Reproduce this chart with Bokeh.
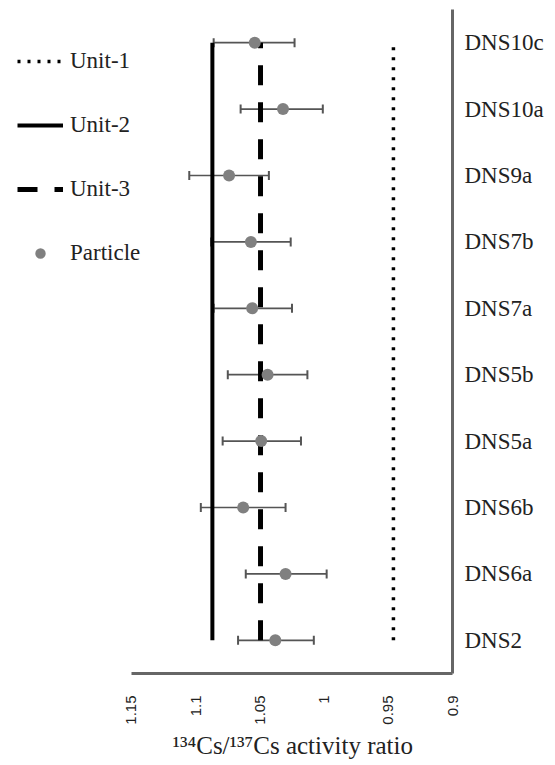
from bokeh.plotting import figure
from bokeh.models import (ColumnDataSource, Range1d, FixedTicker, Whisker,
                          TeeHead, Legend, LegendItem, Title)
from bokeh.embed import file_html
from bokeh.resources import INLINE
import math

# ---- data ----
samples = ["DNS2", "DNS6a", "DNS6b", "DNS5a", "DNS5b", "DNS7a", "DNS7b", "DNS9a", "DNS10a", "DNS10c"]
particle = [1.038, 1.030, 1.063, 1.049, 1.044, 1.056, 1.057, 1.074, 1.032, 1.054]
err_lo = [1.008, 0.998, 1.030, 1.018, 1.013, 1.025, 1.026, 1.043, 1.001, 1.023]
err_hi = [1.067, 1.061, 1.096, 1.079, 1.075, 1.086, 1.088, 1.105, 1.065, 1.086]
unit1 = [0.946] * 10
unit2 = [1.087] * 10
unit3 = [1.0495] * 10
tick_vals = [0.9, 0.95, 1.0, 1.05, 1.1, 1.15]
tick_labels = ["0.9", "0.95", "1", "1.05", "1.1", "1.15"]
x_title = "\u00b9\u00b3\u2074Cs/\u00b9\u00b3\u2077Cs  activity ratio"

ypos = list(range(len(samples)))
src = ColumnDataSource(dict(y=ypos, x=particle, lo=err_lo, hi=err_hi,
                            u1=unit1, u2=unit2, u3=unit3))

p = figure(frame_width=443, frame_height=664,
           x_range=Range1d(1.245, 0.9), y_range=Range1d(-0.5, len(samples) - 0.5),
           y_axis_location="right", output_backend="svg", toolbar_location=None,
           min_border_left=9, min_border_top=9, min_border_bottom=0, min_border_right=0)
p.outline_line_color = None
p.xgrid.visible = False
p.ygrid.visible = False
p.background_fill_color = "white"
p.border_fill_color = "white"

r1 = p.line(x="u1", y="y", source=src, line_color="black", line_width=3.5, line_dash="3 7")
r2 = p.line(x="u2", y="y", source=src, line_color="black", line_width=4)
r3 = p.line(x="u3", y="y", source=src, line_color="black", line_width=5, line_dash="20 17")

wh = Whisker(source=src, base="y", lower="lo", upper="hi", dimension="width",
             line_color="#555555", line_width=1.7,
             upper_head=TeeHead(size=9, line_color="#555555", line_width=2),
             lower_head=TeeHead(size=9, line_color="#555555", line_width=2))
p.add_layout(wh)

r4 = p.scatter(x="x", y="y", source=src, size=12, fill_color="#808080", line_color=None)

# axes
xa = p.xaxis[0]
xa.bounds = (min(tick_vals), max(tick_vals))
xa.ticker = FixedTicker(ticks=tick_vals)
xa.major_label_overrides = {v: t for v, t in zip(tick_vals, tick_labels)}
xa.major_label_orientation = math.pi / 2
xa.major_tick_line_color = None
xa.minor_tick_line_color = None
xa.major_tick_out = 0
xa.major_tick_in = 0
xa.major_label_standoff = 22
xa.major_label_text_font = "Liberation Sans"
xa.major_label_text_font_size = "15px"
xa.major_label_text_color = "#222222"
xa.axis_line_color = "#666666"
xa.axis_line_width = 3

# axis title, placed under the bounded axis
t = Title(text=x_title, align="left", offset=163, standoff=4,
          text_font="Liberation Serif", text_font_style="normal",
          text_font_size="25px", text_color="#222222")
p.add_layout(t, "below")

ya = p.yaxis[0]
ya.ticker = FixedTicker(ticks=ypos)
ya.major_label_overrides = {i: s for i, s in zip(ypos, samples)}
ya.major_tick_line_color = None
ya.minor_tick_line_color = None
ya.major_tick_out = 0
ya.major_tick_in = 0
ya.major_label_standoff = 12
ya.major_label_text_font = "Liberation Serif"
ya.major_label_text_font_size = "23px"
ya.major_label_text_color = "#222222"
ya.axis_line_color = "#666666"
ya.axis_line_width = 3

legend = Legend(items=[LegendItem(label="Unit-1", renderers=[r1]),
                       LegendItem(label="Unit-2", renderers=[r2]),
                       LegendItem(label="Unit-3", renderers=[r3]),
                       LegendItem(label="Particle", renderers=[r4])],
                location=(8, 407), orientation="vertical",
                glyph_width=46, glyph_height=26, label_height=26, spacing=38,
                padding=0, margin=0, label_standoff=7,
                border_line_color=None, background_fill_alpha=0,
                label_text_font="Liberation Serif", label_text_font_size="23px",
                label_text_color="#222222")
p.add_layout(legend, "center")

open("out.html", "w").write(file_html(p, INLINE))
